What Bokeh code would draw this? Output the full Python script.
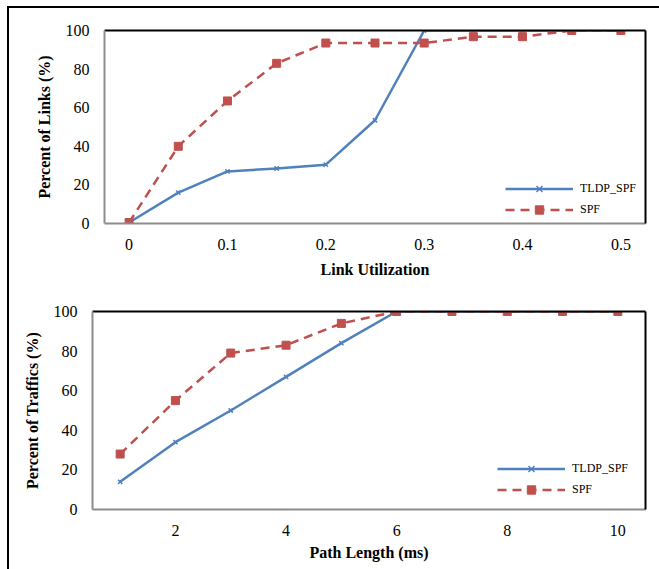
from bokeh.plotting import figure
from bokeh.layouts import column
from bokeh.models import Range1d, FixedTicker, Legend, LegendItem, LinearAxis
from bokeh.embed import file_html
from bokeh.resources import INLINE

# ---- data: top panel ----
util_x = [0, 0.05, 0.1, 0.15, 0.2, 0.25, 0.3, 0.35, 0.4, 0.45, 0.5]
links_tldp = [0.5, 16, 27, 28.5, 30.5, 53.5, 100, 100, 100, 100, 100]
links_spf = [0.5, 40, 63.5, 83, 93.5, 93.5, 93.5, 96.8, 96.8, 100, 100]
util_ticks = [0, 0.1, 0.2, 0.3, 0.4, 0.5]
util_tick_labels = ["0", "0.1", "0.2", "0.3", "0.4", "0.5"]

# ---- data: bottom panel ----
path_x = [1, 2, 3, 4, 5, 6, 7, 8, 9, 10]
traf_tldp = [14, 34, 50, 67, 84, 100, 100, 100, 100, 100]
traf_spf = [28, 55, 79, 83, 94, 100, 100, 100, 100, 100]
path_ticks = [2, 4, 6, 8, 10]
path_tick_labels = ["2", "4", "6", "8", "10"]
y_ticks = [0, 20, 40, 60, 80, 100]

series_names = ["TLDP_SPF", "SPF"]
BLUE = "#4F81BD"
RED = "#C0504D"
FONT = "Liberation Serif"


def style(p, xlabel, ylabel, x_lab_sd, y_lab_sd, xticks, xlabels):
    p.outline_line_color = None
    p.background_fill_color = "white"
    p.border_fill_color = "white"
    p.xgrid.visible = False
    p.ygrid.visible = False
    xa = p.below[0]
    ya = p.left[0]
    for ax in (xa, ya):
        ax.axis_line_color = "#8C8C8C"
        ax.axis_line_width = 2
        ax.major_tick_line_color = None
        ax.minor_tick_line_color = None
        ax.major_tick_in = 0
        ax.major_tick_out = 0
        ax.minor_tick_in = 0
        ax.minor_tick_out = 0
        ax.major_label_text_font = FONT
        ax.major_label_text_font_size = "16px"
        ax.major_label_text_color = "black"
        ax.axis_label_text_font = FONT
        ax.axis_label_text_font_size = "16px"
        ax.axis_label_text_font_style = "bold"
        ax.axis_label_text_color = "black"
    xa.axis_label = xlabel
    ya.axis_label = ylabel
    xa.major_label_standoff = 15
    xa.axis_label_standoff = x_lab_sd
    ya.major_label_standoff = 15
    ya.axis_label_standoff = y_lab_sd
    ya.ticker = FixedTicker(ticks=y_ticks)
    xa.ticker = FixedTicker(ticks=xticks)
    xa.major_label_overrides = {t: s for t, s in zip(xticks, xlabels)}
    for side in ("above", "right"):
        ax = LinearAxis(ticker=FixedTicker(ticks=[-1e6], minor_ticks=[]),
                        axis_line_color="black",
                        axis_line_width=2, major_tick_line_color=None,
                        minor_tick_line_color=None, major_tick_in=0, major_tick_out=0,
                        minor_tick_in=0, minor_tick_out=0)
        p.add_layout(ax, side)


def add_series(p, x, y_t, y_s, loc):
    l1 = p.line(x, y_t, line_color=BLUE, line_width=2.5)
    m1 = p.scatter(x, y_t, marker="x", size=6, line_color=BLUE, line_width=1.5)
    l2 = p.line(x, y_s, line_color=RED, line_width=2.5, line_dash="9 6")
    m2 = p.scatter(x, y_s, marker="square", size=8, fill_color=RED, line_color=RED)
    leg = Legend(items=[LegendItem(label=series_names[0], renderers=[l1, m1]),
                        LegendItem(label=series_names[1], renderers=[l2, m2])],
                 location=loc, padding=0, margin=0, spacing=0,
                 glyph_width=68, glyph_height=21, label_height=21,
                 label_standoff=7, border_line_color=None,
                 background_fill_alpha=0,
                 label_text_font=FONT, label_text_font_size="12px",
                 label_text_color="black")
    p.add_layout(leg, "center")


p1 = figure(frame_width=541, frame_height=193,
            min_border_left=95, min_border_right=14,
            min_border_top=22, min_border_bottom=60,
            x_range=Range1d(-0.025, 0.525), y_range=Range1d(0, 100),
            output_backend="svg", toolbar_location=None)
style(p1, "Link Utilization", "Percent of Links (%)", 8, 10, util_ticks, util_tick_labels)
add_series(p1, util_x, links_tldp, links_spf, (401, 3))

p2 = figure(frame_width=553, frame_height=198,
            min_border_left=83, min_border_right=14,
            min_border_top=28, min_border_bottom=60,
            x_range=Range1d(0.5, 10.5), y_range=Range1d(0, 100),
            output_backend="svg", toolbar_location=None)
style(p2, "Path Length (ms)", "Percent of Traffics (%)", 5, 10, path_ticks, path_tick_labels)
add_series(p2, path_x, traf_tldp, traf_spf, (405, 9))

layout = column(column(p1), column(p2), spacing=0, margin=(6, 0, 0, 7),
                styles={"border-left": "2px solid black", "border-top": "2px solid black"})

open("out.html", "w").write(file_html(layout, INLINE))
